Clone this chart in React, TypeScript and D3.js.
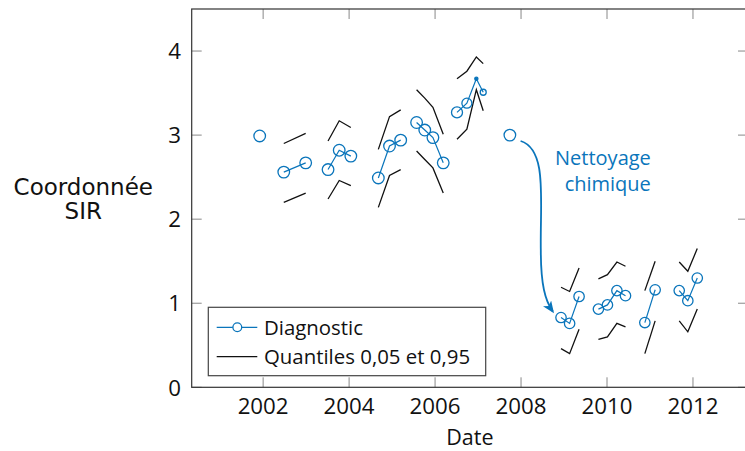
import React from "react";
import * as d3 from "d3";

// Diagnostic campaigns: dates (decimal years), SIR coordinate, marker radius
const groupDates: number[][] = [
  [2001.92],
  [2002.48, 2002.99],
  [2003.51, 2003.77, 2004.04],
  [2004.68, 2004.94, 2005.2],
  [2005.57, 2005.76, 2005.95, 2006.19],
  [2006.51, 2006.74, 2006.96, 2007.12],
  [2007.74],
  [2008.93, 2009.13, 2009.35],
  [2009.8, 2010.01, 2010.23, 2010.43],
  [2010.88, 2011.12],
  [2011.68, 2011.88, 2012.1],
];
const groupValues: number[][] = [
  [2.99],
  [2.56, 2.67],
  [2.59, 2.82, 2.75],
  [2.49, 2.87, 2.94],
  [3.15, 3.06, 2.97, 2.67],
  [3.27, 3.38, 3.67, 3.51],
  [3.0],
  [0.83, 0.76, 1.08],
  [0.93, 0.98, 1.15, 1.09],
  [0.77, 1.16],
  [1.15, 1.03, 1.3],
];
const groupRadii: number[][] = [
  [5.8],
  [5.8, 5.8],
  [5.8, 5.8, 5.8],
  [5.8, 5.8, 5.8],
  [5.8, 5.8, 5.8, 5.8],
  [5.5, 5, 1.6, 3],
  [5.8],
  [5.2, 5.2, 5.2],
  [5.2, 5.2, 5.2, 5.2],
  [5.2, 5.2],
  [5.2, 5.2, 5.2],
];
// 0.95 and 0.05 quantiles at the same dates (none for isolated points)
const upperQuantile: (number[] | null)[] = [
  null,
  [2.9, 3.02],
  [2.93, 3.17, 3.09],
  [2.83, 3.22, 3.3],
  [3.54, 3.44, 3.33, 3.01],
  [3.67, 3.76, 3.93, 3.85],
  null,
  [1.19, 1.14, 1.42],
  [1.29, 1.34, 1.49, 1.44],
  [1.15, 1.5],
  [1.49, 1.38, 1.65],
];
const lowerQuantile: (number[] | null)[] = [
  null,
  [2.2, 2.31],
  [2.24, 2.46, 2.4],
  [2.14, 2.52, 2.59],
  [2.81, 2.71, 2.61, 2.31],
  [2.95, 3.07, 3.54, 3.29],
  null,
  [0.46, 0.4, 0.69],
  [0.57, 0.6, 0.76, 0.72],
  [0.4, 0.79],
  [0.79, 0.66, 0.93],
];

const xTicks = [2002, 2004, 2006, 2008, 2010, 2012];
const yTicks = [0, 1, 2, 3, 4];

// Cleaning annotation: curved arrow (start, two cubic segments) in data units
const arrowPath: [number, number][] = [
  [2007.99, 2.93],
  [2008.62, 2.83], [2008.44, 2.23], [2008.46, 1.63],
  [2008.46, 1.22], [2008.56, 1.03], [2008.74, 0.9],
];
const noteLines = ["Nettoyage", "chimique"];
const notePos: [number, number] = [2011.02, 2.64];

const W = 745;
const H = 451;
const left = 191.7;
const right = 748;
const top = 9;
const bottom = 387.3;
const BLUE = "#0a75bb";
const FONT = "'Open Sans', sans-serif";

export default function App() {
  const x = d3.scaleLinear().domain([2000.338, 2013.28]).range([left, right]);
  const y = d3.scaleLinear().domain([0, 4.5]).range([bottom, top]);

  const line = d3
    .line<[number, number]>()
    .x((d) => x(d[0]))
    .y((d) => y(d[1]));

  const p = arrowPath.map(([a, b]) => [x(a), y(b)]);
  const arrowD = `M${p[0][0]},${p[0][1]} C${p[1][0]},${p[1][1]} ${p[2][0]},${p[2][1]} ${p[3][0]},${p[3][1]} C${p[4][0]},${p[4][1]} ${p[5][0]},${p[5][1]} ${p[6][0]},${p[6][1]}`;

  return (
    <svg
      width={W}
      height={H}
      style={{ position: "absolute", left: 0, top: 0, background: "#fff" }}
    >
      <defs>
        <marker
          id="stealth"
          viewBox="0 0 12 10"
          refX="10"
          refY="5"
          markerWidth="12"
          markerHeight="10"
          markerUnits="userSpaceOnUse"
          orient="auto"
        >
          <path d="M0,0 L12,5 L0,10 L3,5 Z" fill={BLUE} />
        </marker>
      </defs>

      {/* ticks (inside, on all four sides) */}
      {xTicks.map((t) => (
        <g key={"xt" + t} stroke="#888" strokeWidth={1}>
          <line x1={x(t)} x2={x(t)} y1={bottom} y2={bottom - 10} />
          <line x1={x(t)} x2={x(t)} y1={top} y2={top + 10} />
        </g>
      ))}
      {yTicks.map((t) => (
        <g key={"yt" + t} stroke="#888" strokeWidth={1}>
          <line x1={left} x2={left + 10} y1={y(t)} y2={y(t)} />
          <line x1={right} x2={right - 10} y1={y(t)} y2={y(t)} />
        </g>
      ))}

      {/* frame */}
      <rect
        x={left}
        y={top}
        width={right - left}
        height={bottom - top}
        fill="none"
        stroke="#333"
        strokeWidth={1.2}
      />

      {/* tick labels */}
      {xTicks.map((t) => (
        <text
          key={"xl" + t}
          x={x(t)}
          y={413.5}
          textAnchor="middle"
          fontFamily={FONT}
          fontSize={22.3}
          fill="#111"
        >
          {t}
        </text>
      ))}
      {yTicks.map((t) => (
        <text
          key={"yl" + t}
          x={181}
          y={y(t) + 8.2}
          textAnchor="end"
          fontFamily={FONT}
          fontSize={22.3}
          fill="#111"
        >
          {t}
        </text>
      ))}

      {/* axis titles */}
      <text x={(left + right) / 2} y={445} textAnchor="middle" fontFamily={FONT} fontSize={21.5} fill="#111">
        Date
      </text>
      <text textAnchor="middle" fontFamily="'DejaVu Sans', sans-serif" fontSize={23} fill="#111">
        <tspan x={83.3} y={195}>Coordonnée</tspan>
        <tspan x={83.3} y={218.5}>SIR</tspan>
      </text>

      {/* quantile bands */}
      {groupDates.map((ds, gi) => {
        const up = upperQuantile[gi];
        const lo = lowerQuantile[gi];
        if (!up || !lo) return null;
        return (
          <g key={"q" + gi} fill="none" stroke="#111" strokeWidth={1.3}>
            <path d={line(ds.map((d, i) => [d, up[i]] as [number, number])) || ""} />
            <path d={line(ds.map((d, i) => [d, lo[i]] as [number, number])) || ""} />
          </g>
        );
      })}

      {/* diagnostics */}
      {groupDates.map((ds, gi) => {
        const pts = ds.map((d, i) => [d, groupValues[gi][i]] as [number, number]);
        return (
          <g key={"g" + gi}>
            {pts.length > 1 && (
              <path d={line(pts) || ""} fill="none" stroke={BLUE} strokeWidth={1.2} />
            )}
            {pts.map((pt, i) => {
              const r = groupRadii[gi][i];
              return (
                <circle
                  key={i}
                  cx={x(pt[0])}
                  cy={y(pt[1])}
                  r={r}
                  fill={r < 2 ? BLUE : "none"}
                  stroke={BLUE}
                  strokeWidth={1.3}
                />
              );
            })}
          </g>
        );
      })}

      {/* cleaning annotation */}
      <path d={arrowD} fill="none" stroke={BLUE} strokeWidth={1.8} markerEnd="url(#stealth)" />
      <text textAnchor="end" fontFamily={FONT} fontSize={20} fill={BLUE}>
        {noteLines.map((s, i) => (
          <tspan key={s} x={x(notePos[0])} y={y(notePos[1]) + i * 26}>
            {s}
          </tspan>
        ))}
      </text>

      {/* legend */}
      <g>
        <rect x={208.3} y={307.3} width={277.4} height={68.4} fill="#fff" stroke="#444" strokeWidth={1.2} />
        <line x1={216.7} x2={257.3} y1={327.3} y2={327.3} stroke={BLUE} strokeWidth={1.2} />
        <circle cx={237.3} cy={327.3} r={4.4} fill="#fff" stroke={BLUE} strokeWidth={1.3} />
        <text x={264} y={334.5} fontFamily={FONT} fontSize={20.4} fill="#111">
          Diagnostic
        </text>
        <line x1={216.7} x2={257.3} y1={356.7} y2={356.7} stroke="#111" strokeWidth={1.3} />
        <text x={264} y={364} fontFamily={FONT} fontSize={20.4} fill="#111">
          Quantiles 0,05 et 0,95
        </text>
      </g>
    </svg>
  );
}
